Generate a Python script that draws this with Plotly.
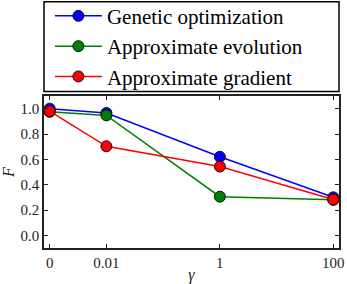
import plotly.graph_objects as go

# Data
gamma_labels = ["0", "0.01", "1", "100"]
gamma_pos = [1e-3, 1e-2, 1, 100]  # log-scale positions (0 drawn one decade left of 0.01)
genetic = [1.00, 0.966, 0.62, 0.30]
approx_evolution = [0.975, 0.947, 0.305, 0.28]
approx_gradient = [0.98, 0.703, 0.543, 0.283]

series = [
    ("Genetic optimization", genetic, "#0000ff"),
    ("Approximate evolution", approx_evolution, "#007f00"),
    ("Approximate gradient", approx_gradient, "#ff0000"),
]

FONT = "Liberation Serif"

fig = go.Figure()
for name, vals, col in series:
    fig.add_trace(go.Scatter(
        x=gamma_pos, y=vals, name=name, mode="lines+markers",
        line=dict(color=col, width=1.5),
        marker=dict(color=col, size=11, line=dict(color="#111", width=1)),
    ))

fig.update_layout(
    width=347, height=284,
    margin=dict(l=44, r=8, t=96, b=36, autoexpand=False),
    paper_bgcolor="white", plot_bgcolor="white",
    font=dict(family=FONT, size=15, color="#222"),
    showlegend=True,
    legend=dict(
        x=0.02, y=1.66, xanchor="left", yanchor="top",
        font=dict(family=FONT, size=21, color="black"),
        bgcolor="rgba(0,0,0,0)", borderwidth=0,
        itemwidth=47, tracegroupgap=0,
    ),
    shapes=[dict(type="rect", xref="paper", yref="paper",
                 x0=0, x1=1, y0=1.03, y1=1.62,
                 line=dict(color="black", width=1.5), fillcolor="rgba(0,0,0,0)")],
)

fig.update_xaxes(
    type="log", range=[-3.1, 2.1],
    tickvals=gamma_pos, ticktext=gamma_labels,
    ticks="inside", ticklen=4, tickcolor="#222",
    showline=True, linecolor="#222", linewidth=1.5, mirror="ticks",
    showgrid=False, zeroline=False,
    title=dict(text="<i>γ</i>", standoff=2, font=dict(size=16)),
)
fig.update_yaxes(
    range=[-0.1, 1.1], tickvals=[0, 0.2, 0.4, 0.6, 0.8, 1.0],
    ticktext=["0.0", "0.2", "0.4", "0.6", "0.8", "1.0"],
    ticks="inside", ticklen=4, tickcolor="#222",
    showline=True, linecolor="#222", linewidth=1.5, mirror="ticks",
    showgrid=False, zeroline=False,
    title=dict(text="<i>F</i>", standoff=4, font=dict(size=16)),
)

fig.write_html("out.html", config={"displayModeBar": False},
               post_script="document.body.style.margin='0';")
